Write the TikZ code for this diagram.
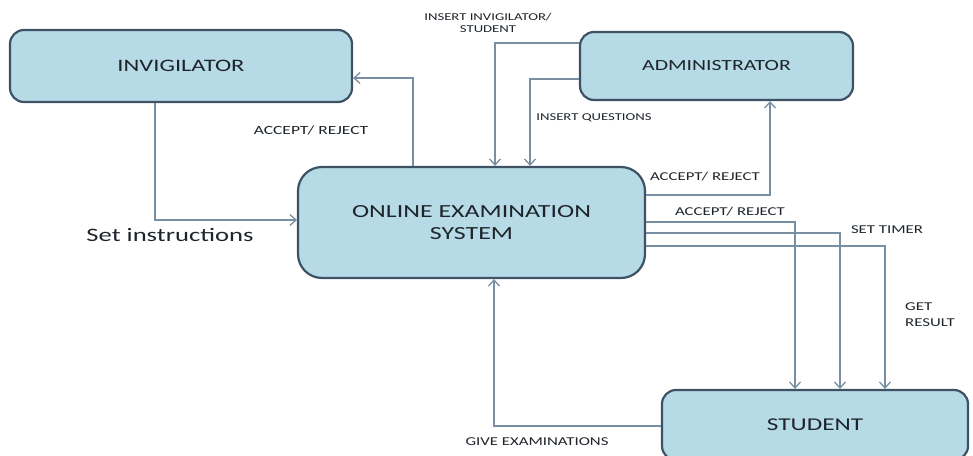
\documentclass[tikz,border=0pt]{standalone}
\usepackage{fontspec}
\usepackage{xcolor}
\usepackage{tikz}
\usetikzlibrary{arrows.meta,positioning,calc}
\newfontfamily\diagfont[FakeStretch=1.4]{Carlito}
\definecolor{boxfill}{RGB}{182,218,230}
\definecolor{boxline}{RGB}{62,82,102}
\definecolor{wire}{RGB}{120,142,162}
\definecolor{ink}{RGB}{30,36,42}

\begin{document}
\begin{tikzpicture}[
    x=1pt, y=-1pt,
    >={Straight Barb[length=6pt,width=11pt]},
    font=\diagfont,
    entity/.style={
        draw=boxline,
        line width=2.2pt,
        fill=boxfill,
        rounded corners=14pt,
        align=center,
        text=ink,
        inner sep=0pt
    },
    lbl/.style={
        font=\diagfont\fontsize{12}{14}\selectfont,
        text=ink,
        align=center,
        inner sep=0pt
    },
    arr/.style={->, draw=wire, line width=1.3pt}
]
\useasboundingbox (0,0) rectangle (973,455);

% entities
\node[entity, minimum width=342pt, minimum height=72pt,
      font=\diagfont\fontsize{17.5}{20}\selectfont] (inv) at (181,66) {INVIGILATOR};

\node[entity, minimum width=273pt, minimum height=68pt,
      font=\diagfont\fontsize{15.5}{18}\selectfont] (adm) at (716.5,66) {ADMINISTRATOR};

\node[entity, minimum width=347pt, minimum height=111pt, rounded corners=24pt,
      font=\diagfont\fontsize{18.5}{22}\selectfont] (sys) at (471.5,222.5)
      {ONLINE EXAMINATION\\SYSTEM};

\node[entity, minimum width=306pt, minimum height=70pt,
      font=\diagfont\fontsize{18}{21}\selectfont] (stu) at (815,425) {STUDENT};

% labels
\node[lbl, font=\diagfont\fontsize{12.5}{14}\selectfont] (lblrej1) at (311,130) {ACCEPT/ REJECT};
\node[lbl, font=\diagfont\fontsize{19}{22}\selectfont] (lblset) at (170,235) {Set instructions};
\node[lbl, font=\diagfont\fontsize{10.5}{11.5}\selectfont] (lblins) at (488,23) {INSERT INVIGILATOR/\\STUDENT};
\node[lbl, font=\diagfont\fontsize{10.5}{12}\selectfont] (lblq) at (594,118) {INSERT QUESTIONS};
\node[lbl] (lblrej2) at (705,177) {ACCEPT/ REJECT};
\node[lbl] (lblrej3) at (730,212) {ACCEPT/ REJECT};
\node[lbl] (lbltimer) at (887,230) {SET TIMER};
\node[lbl, align=left, anchor=west, font=\diagfont\fontsize{12}{16}\selectfont] (lblres) at (905,315) {GET\\RESULT};
\node[lbl] (lblgive) at (537,442) {GIVE EXAMINATIONS};

% connectors
\draw[arr] ([xshift=-58.5pt]sys.north) |- ([yshift=-12pt]inv.east);
\draw[arr] ([xshift=-26pt]inv.south) |- ([yshift=2.5pt]sys.west);
\draw[arr] ([yshift=23pt]adm.west) -| ([xshift=23.5pt]sys.north);
\draw[arr] ([yshift=-13pt]adm.west) -| ([xshift=58.5pt]sys.north);
\draw[arr] ([yshift=27.5pt]sys.east) -| ([xshift=53.5pt]adm.south);
\draw[arr] ([yshift=0.5pt]sys.east) -| ([xshift=-20pt]stu.north);
\draw[arr] ([yshift=-10.5pt]sys.east) -| ([xshift=25pt]stu.north);
\draw[arr] ([yshift=-23.5pt]sys.east) -| ([xshift=70pt]stu.north);
\draw[arr] ([yshift=-1pt]stu.west) -| ([xshift=22.5pt]sys.south);

\end{tikzpicture}
\end{document}
